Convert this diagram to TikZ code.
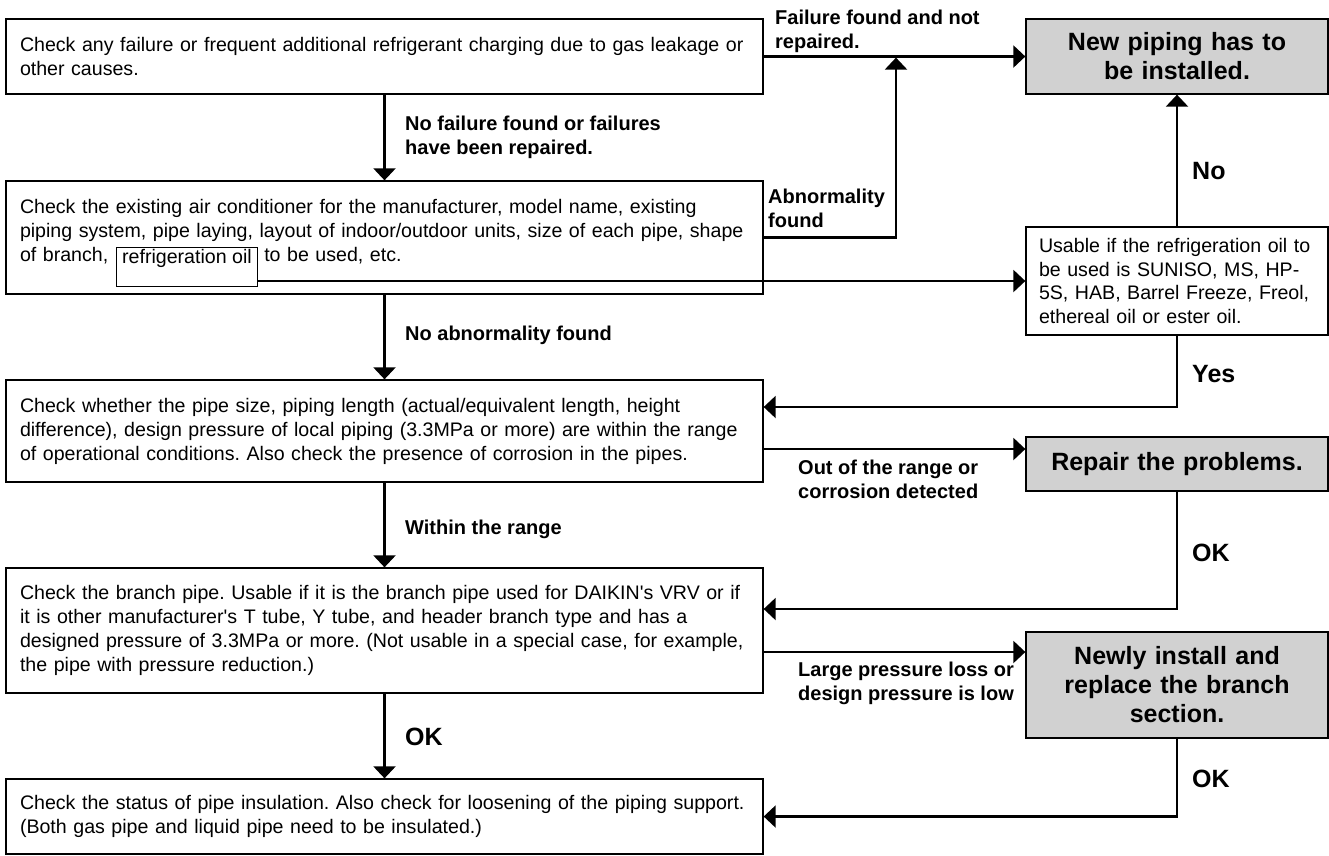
\documentclass[tikz,border=0pt]{standalone}
\usepackage{fontspec}
\setmainfont{Liberation Sans}
\usetikzlibrary{arrows.meta}
\frenchspacing
\hyphenpenalty=10000
\exhyphenpenalty=10000
\tikzset{every node/.style={font=\fontsize{19.6}{24}\selectfont}}
\colorlet{boxcol}{black}
\colorlet{resultcol}{black!18}
\colorlet{flowcol}{black}

\tikzset{
  checkbox/.style={draw=boxcol, line width=1.3pt, text width=729pt,
    inner xsep=14pt, inner ysep=0pt, align=left, minimum width=757pt},
  resultbox/.style={draw=boxcol, fill=resultcol, line width=1.3pt,
    text width=290pt, inner xsep=6pt, inner ysep=0pt, align=center,
    font=\fontsize{25}{29}\selectfont\bfseries},
  oilcheckbox/.style={draw=boxcol, line width=1.3pt, text width=276pt,
    inner xsep=13pt, inner ysep=0pt, align=left,
    font=\fontsize{19.6}{23.5}\selectfont},
  flowline/.style={line width=2.2pt, flowcol},
  flowlabel/.style={anchor=north west, inner sep=0pt, align=left,
    font=\fontsize{20}{24}\selectfont\bfseries},
  answerlabel/.style={anchor=north west, inner sep=0pt,
    font=\fontsize{25}{29}\selectfont\bfseries}
}

\begin{document}
\begin{tikzpicture}[x=1pt, y=-1pt, >={Triangle[length=12pt, width=22pt]}]

  \useasboundingbox (0,0) rectangle (1329,855);

  % Check steps, left column.
  \node[checkbox, minimum height=75pt] (chkfail) at (384.5,56.5)
    {Check any failure or frequent additional refrigerant charging due to gas leakage or\\
     other causes.};
  \node[checkbox, minimum height=113pt] (chkunit) at (384.5,237.5)
    {Check the existing air conditioner for the manufacturer, model name, existing\\
     piping system, pipe laying, layout of indoor/outdoor units, size of each pipe, shape\\
     of branch,\hspace{156pt}to be used, etc.\rule[-14pt]{0pt}{14pt}};
  \node[checkbox, minimum height=102pt] (chkrange) at (384.5,431)
    {Check whether the pipe size, piping length (actual/equivalent length, height\\
     difference), design pressure of local piping (3.3MPa or more) are within the range\\
     of operational conditions. Also check the presence of corrosion in the pipes.};
  \node[checkbox, minimum height=125pt] (chkbranch) at (384.5,630.5)
    {Check the branch pipe. Usable if it is the branch pipe used for DAIKIN\textquotesingle s VRV or if\\
     it is other manufacturer\textquotesingle s T tube, Y tube, and header branch type and has a\\
     designed pressure of 3.3MPa or more. (Not usable in a special case, for example,\\
     the pipe with pressure reduction.)};
  \node[checkbox, minimum height=75pt] (chkinsul) at (384.5,816.5)
    {Check the status of pipe insulation. Also check for loosening of the piping support.\\
     (Both gas pipe and liquid pipe need to be insulated.)};

  % Marked item inside the second box.
  \node[draw=boxcol, line width=1.3pt, anchor=north west, inner xsep=5.5pt,
    inner ysep=0pt, text height=16pt, text depth=23pt] (oilbox) at (116,247)
    {refrigeration oil};

  % Results and oil check, right column.
  \node[resultbox, minimum height=75pt] (newpipe) at (1177,56.5)
    {New piping has to\\be installed.};
  \node[oilcheckbox, minimum height=108pt] (usable) at (1177,281)
    {Usable if the refrigeration oil to\\
     be used is SUNISO, MS, HP-\\
     5S, HAB, Barrel Freeze, Freol,\\
     ethereal oil or ester oil.};
  \node[resultbox, minimum height=54pt] (repair) at (1177,464)
    {Repair the problems.};
  \node[resultbox, minimum height=106pt] (newbranch) at (1177,685)
    {Newly install and\\replace the branch\\section.};

  % Main flow downwards.
  \draw[->, flowline] (chkfail.south) -- (chkunit.north);
  \draw[->, flowline] (chkunit.south) -- (chkrange.north);
  \draw[->, flowline] (chkrange.south) -- (chkbranch.north);
  \draw[->, flowline] (chkbranch.south) -- (chkinsul.north);

  % Branches to the right.
  \coordinate (abnjoin) at (896,57.6);
  \draw[->, flowline] (chkfail.east) -- (newpipe.west);
  \draw[->, flowline] (chkunit.east) -| (abnjoin);
  \draw[->, flowline] (oilbox.east |- usable.west) -- (usable.west);
  \draw[->, flowline] (usable.north) -- (newpipe.south);
  \draw[->, flowline] (usable.south) |- ([yshift=24pt]chkrange.east);

  \coordinate (rngout) at ([yshift=-18pt]chkrange.east);
  \draw[->, flowline] (rngout) -- (rngout -| repair.west);
  \draw[->, flowline] (repair.south) |- ([yshift=21.5pt]chkbranch.east);

  \coordinate (brout) at ([yshift=-21.5pt]chkbranch.east);
  \draw[->, flowline] (brout) -- (brout -| newbranch.west);
  \draw[->, flowline] (newbranch.south) |- (chkinsul.east);

  % Connector labels.
  \node[flowlabel] (lblfail) at (775,9.5) {Failure found and not\\repaired.};
  \node[flowlabel] (lblnofail) at (405,116) {No failure found or failures\\have been repaired.};
  \node[flowlabel] (lblabn) at (768,189) {Abnormality\\found};
  \node[flowlabel] (lblnoabn) at (405,326) {No abnormality found};
  \node[flowlabel] (lblout) at (798,460) {Out of the range or\\corrosion detected};
  \node[flowlabel] (lblwithin) at (405,520) {Within the range};
  \node[flowlabel] (lblloss) at (798,662) {Large pressure loss or\\design pressure is low};

  \node[answerlabel] (lblno) at (1192,162) {No};
  \node[answerlabel] (lblyes) at (1192,365) {Yes};
  \node[answerlabel] (lblokrep) at (1192,544) {OK};
  \node[answerlabel] (lblokbr) at (405,728) {OK};
  \node[answerlabel] (lbloknew) at (1192,770) {OK};

\end{tikzpicture}
\end{document}
